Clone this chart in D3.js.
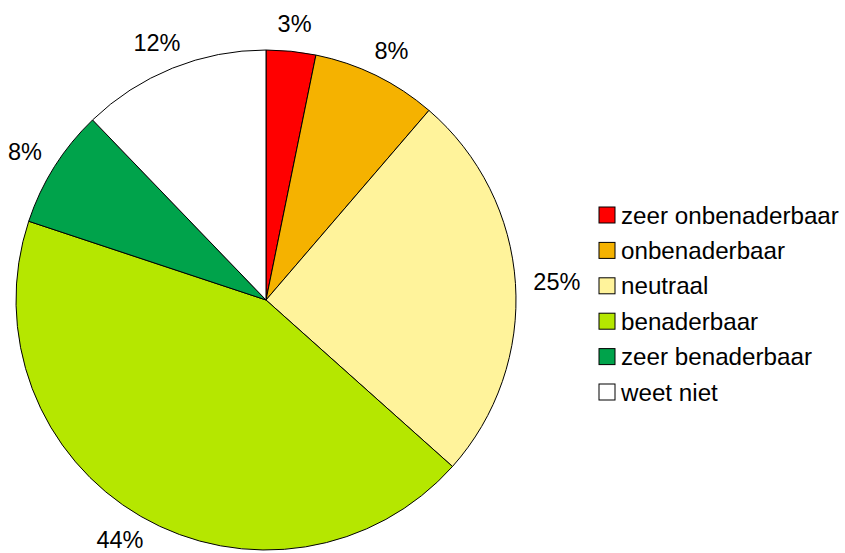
<!DOCTYPE html>
<html>
<head>
<meta charset="utf-8">
<script src="https://cdn.jsdelivr.net/npm/d3@7"></script>
<style>
    body { margin: 0; background: #fff; }
    svg { display: block; font-family: "Liberation Sans", Arial, sans-serif; }
</style>
</head>
<body>
<svg id="chart" width="845" height="553"></svg>
<script>
let categories = ["zeer onbenaderbaar", "onbenaderbaar", "neutraal", "benaderbaar", "zeer benaderbaar", "weet niet"];
let values = [3.2, 8.1, 25.3, 43.5, 7.7, 12.2];
let colors = ["#ff0000", "#f5b200", "#fff39b", "#b5e700", "#00a34b", "#ffffff"];

let svg = d3.select("#chart");
let cx = 266, cy = 300, radius = 250;

let pie = d3.pie().sort(null).value(d => d.value);
let arcs = pie(categories.map((name, i) => ({ name: name, value: values[i], color: colors[i] })));
let arc = d3.arc().innerRadius(0).outerRadius(radius);

let g = svg.append("g").attr("transform", `translate(${cx},${cy})`);

g.selectAll("path")
    .data(arcs)
    .enter()
    .append("path")
    .attr("d", arc)
    .attr("fill", d => d.data.color)
    .attr("stroke", "#000")
    .attr("stroke-width", 1);

// labels outside the pie, pushed away from the slice along its mid angle
let labelFont = 23.5;
g.selectAll("text.label")
    .data(arcs)
    .enter()
    .append("text")
    .attr("class", "label")
    .attr("font-size", labelFont)
    .attr("text-anchor", "middle")
    .attr("dominant-baseline", "central")
    .attr("fill", "#000")
    .text(d => Math.round(d.data.value) + "%")
    .each(function (d) {
        let angle = (d.startAngle + d.endAngle) / 2;
        let w = this.getComputedTextLength();
        let h = labelFont * 0.8;
        let r = radius + 18;
        let x = Math.sin(angle) * r + Math.sin(angle) * w / 2;
        let y = -Math.cos(angle) * r - Math.cos(angle) * h / 2;
        d3.select(this).attr("x", x).attr("y", y);
    });

// legend
let legendY = d3.scalePoint().domain(categories).range([215, 392]);
let legend = svg.append("g");
let rows = legend.selectAll("g")
    .data(arcs)
    .enter()
    .append("g")
    .attr("transform", d => `translate(599,${legendY(d.data.name)})`);
rows.append("rect")
    .attr("x", 0)
    .attr("y", -8)
    .attr("width", 16)
    .attr("height", 16)
    .attr("fill", d => d.data.color)
    .attr("stroke", "#000")
    .attr("stroke-width", 1);
rows.append("text")
    .attr("x", 22)
    .attr("y", 0)
    .attr("dominant-baseline", "central")
    .attr("font-size", 24.2)
    .attr("fill", "#000")
    .text(d => d.data.name);
</script>
</body>
</html>
